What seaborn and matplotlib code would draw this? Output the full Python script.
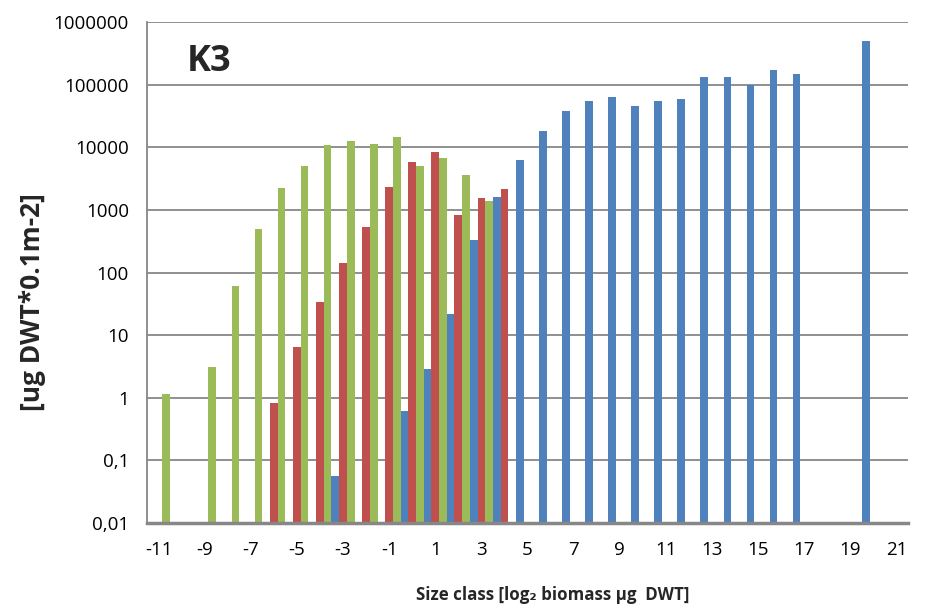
import matplotlib
matplotlib.use("Agg")
import matplotlib.pyplot as plt
from matplotlib.ticker import FixedLocator, FixedFormatter, NullLocator
import pandas as pd
import seaborn as sns

# Size classes on the category axis (log2 biomass, µg DWT)
size_classes = list(range(-11, 22))
tick_labels = [str(c) for c in size_classes[::2]]

# Biomass per size class for the three series [ug DWT * 0.1 m-2]
series1_classes = [-3, 0, 1, 2, 3, 4, 5, 6, 7, 8, 9, 10, 11, 12, 13, 14, 15, 16, 17, 20]
series1_values = [0.057, 0.62, 2.9, 21.5, 330, 1630, 6200, 18000, 37600, 55000,
                  62400, 45400, 55000, 59300, 131500, 131500, 99600, 169500, 149400, 497000]

series2_classes = [-6, -5, -4, -3, -2, -1, 0, 1, 2, 3, 4]
series2_values = [0.82, 6.4, 34, 141, 530, 2300, 5800, 8550, 830, 1540, 2140]

series3_classes = [-11, -9, -8, -7, -6, -5, -4, -3, -2, -1, 0, 1, 2, 3]
series3_values = [1.14, 3.1, 62, 490, 2270, 5030, 10900, 12800, 11200, 14800,
                  5100, 6700, 3620, 1410]

series_names = ["Series1", "Series2", "Series3"]
series_colors = ["#4F81BD", "#C0504D", "#9BBB59"]

y_ticks = [0.01, 0.1, 1, 10, 100, 1000, 10000, 100000, 1000000]
y_tick_labels = ["0,01", "0,1", "1", "10", "100", "1000", "10000", "100000", "1000000"]

frames = []
for name, cls, vals in zip(series_names,
                           [series1_classes, series2_classes, series3_classes],
                           [series1_values, series2_values, series3_values]):
    frames.append(pd.DataFrame({"size_class": [str(c) for c in cls],
                                "biomass": vals, "series": name}))
df = pd.concat(frames, ignore_index=True)

sns.set_style("white")
plt.rcParams["font.family"] = ["Open Sans", "DejaVu Sans"]

grid_gray = "#878787"

fig = plt.figure(figsize=(9.26, 6.13), dpi=100)
ax = fig.add_axes([147 / 926, 1 - 523 / 613, (908 - 147) / 926, (523 - 22) / 613])

sns.barplot(data=df, x="size_class", y="biomass", hue="series",
            order=[str(c) for c in size_classes], hue_order=series_names,
            palette=series_colors, saturation=1, width=1.0, linewidth=0,
            legend=False, ax=ax, errorbar=None)

ax.set_yscale("log")
ax.set_ylim(0.01, 1000000)
ax.set_xlim(-0.5, len(size_classes) - 0.5)

ax.yaxis.set_major_locator(FixedLocator(y_ticks))
ax.yaxis.set_major_formatter(FixedFormatter(y_tick_labels))
ax.yaxis.set_minor_locator(NullLocator())

ax.xaxis.set_major_locator(FixedLocator(list(range(0, len(size_classes), 2))))
ax.xaxis.set_major_formatter(FixedFormatter(tick_labels))
ax.xaxis.set_minor_locator(FixedLocator([i - 0.5 for i in range(len(size_classes) + 1)]))

ax.tick_params(axis="x", which="major", length=0, pad=13, labelsize=13.5, colors="black")
ax.tick_params(axis="x", which="minor", length=6, width=2, color=grid_gray, direction="out")
ax.tick_params(axis="y", which="major", length=6, width=1.2, color=grid_gray,
               direction="out", pad=7, labelsize=13.5, labelcolor="black")

ax.set_axisbelow(True)
ax.yaxis.grid(True, color=grid_gray, linewidth=1.3)
ax.xaxis.grid(False)

for side in ["top", "right"]:
    ax.spines[side].set_visible(False)
ax.spines["left"].set_color(grid_gray)
ax.spines["left"].set_linewidth(1.3)
ax.spines["bottom"].set_color(grid_gray)
ax.spines["bottom"].set_linewidth(2.5)

ax.set_xlabel("")
ax.set_ylabel("")

fig.text(33 / 926, 1 - 302 / 613, "[ug DWT*0.1m-2]", rotation=90,
         ha="center", va="center", fontsize=19, fontweight="bold")
fig.text(553 / 926, 1 - 595 / 613, "Size class [log\u2082 biomass \u00b5g  DWT]",
         ha="center", va="center", fontsize=12.2, fontweight="bold")
fig.text(187 / 926, 1 - 71 / 613, "K3", ha="left", va="baseline",
         fontsize=26, fontweight="bold")

fig.savefig("out.png", dpi=100, facecolor="white")
